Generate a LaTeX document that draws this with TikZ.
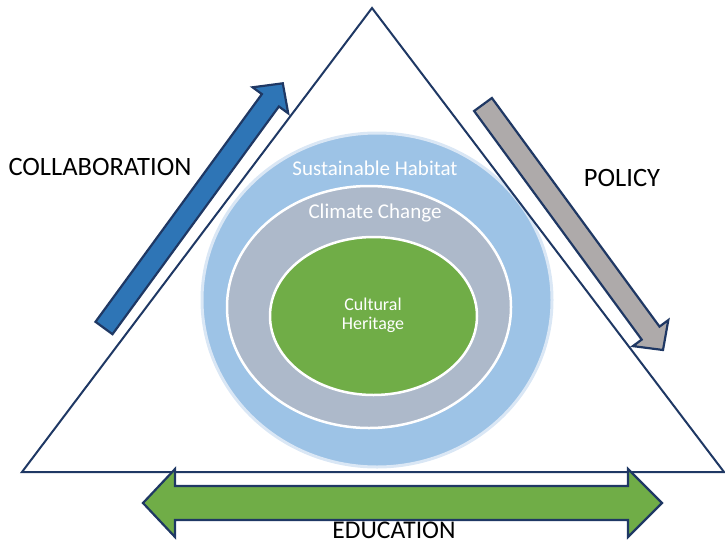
\documentclass[tikz,border=0pt]{standalone}
\usepackage{fontspec}
\setmainfont{Carlito}
\definecolor{navy}{HTML}{1F3864}
\definecolor{outerblue}{HTML}{9DC3E6}
\definecolor{outerrim}{HTML}{DAE7F5}
\definecolor{midgray}{HTML}{ADB9CA}
\definecolor{leafgreen}{HTML}{70AD47}
\definecolor{arrowblue}{HTML}{2E75B6}
\definecolor{arrowgray}{HTML}{AEAAAA}
\tikzset{
  bigarrow/.style={draw=navy, line width=2.2pt, line join=miter},
  sidelabel/.style={font=\fontsize{26.5}{30}\selectfont, text=black, inner sep=0pt},
  ringlabel/.style={font=\fontsize{21}{25}\selectfont, text=white, inner sep=0pt},
  corelabel/.style={font=\fontsize{18}{21}\selectfont, text=white, inner sep=0pt, align=center},
}
\begin{document}
\begin{tikzpicture}[x=1pt,y=-1pt]
\useasboundingbox (0,0) rectangle (725,544);
% circles
\draw[fill=outerblue, draw=outerrim, line width=3pt] (377,300) ellipse [x radius=175, y radius=167];
\draw[fill=midgray, draw=white, line width=2.5pt] (369,307) ellipse [x radius=142, y radius=121];
\draw[fill=leafgreen, draw=white, line width=2.5pt] (373.5,316) ellipse [x radius=103.5, y radius=79];
% triangle
\coordinate (apex) at (372,8);
\coordinate (bl) at (22,472);
\coordinate (br) at (724,472);
\draw[navy, line width=2pt, line join=miter] (apex) -- (bl) -- (br) -- cycle;
% collaboration arrow
\draw[bigarrow, fill=arrowblue] (112.5,334.2) -- (278.9,106.5) -- (288.2,113.3) -- (282.8,83.3) -- (252.6,87.3) -- (261.9,94.1) -- (95.5,321.8) -- cycle;
% policy arrow
\draw[bigarrow, fill=arrowgray] (491.9,98.0) -- (659.5,326.6) -- (668.3,320.1) -- (663,350) -- (632.9,346.1) -- (641.7,339.6) -- (474.1,111.0) -- cycle;
% education arrow
\draw[bigarrow, fill=leafgreen] (143,503) -- (175,469) -- (175,486) -- (628,486) -- (628,469) -- (662,503) -- (628,537) -- (628,520) -- (175,520) -- (175,537) -- cycle;
% labels
\node[sidelabel] (collab) at (100,167) {COLLABORATION};
\node[sidelabel] (policy) at (622,178) {POLICY};
\node[sidelabel, font=\fontsize{25.5}{30}\selectfont] (edu) at (394,530) {EDUCATION};
\node[ringlabel] (habitat) at (375,168) {Sustainable Habitat};
\node[ringlabel] (climate) at (375,213) {Climate Change};
\node[corelabel] (heritage) at (373,315) {Cultural\\[-2pt]Heritage};
\end{tikzpicture}
\end{document}
